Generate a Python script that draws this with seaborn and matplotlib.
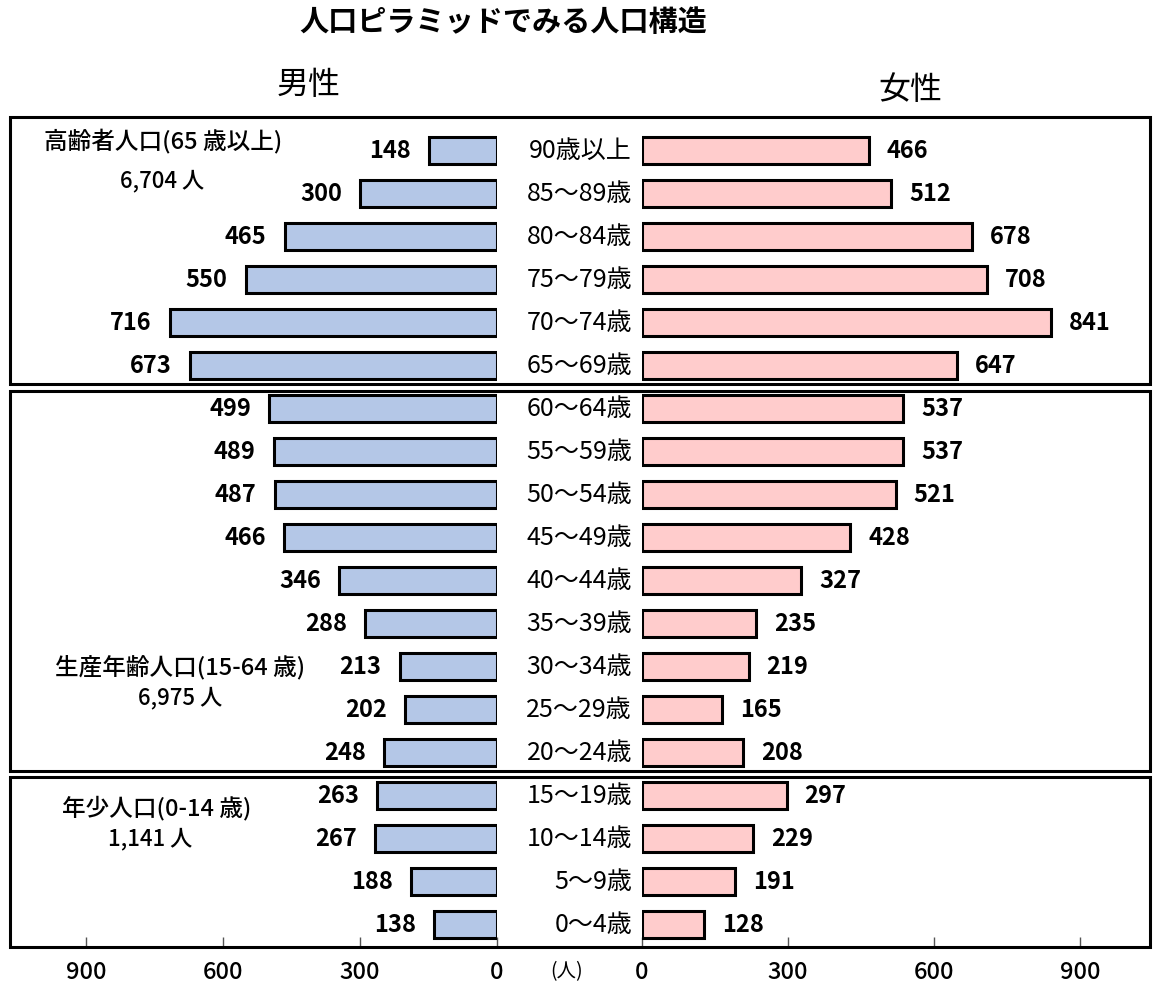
import matplotlib
matplotlib.use("Agg")
import matplotlib.pyplot as plt
from matplotlib.patches import Rectangle
import matplotlib.transforms as mtransforms
import seaborn as sns
import pandas as pd

sns.set_theme(style="white")
plt.rcParams["font.family"] = ["Noto Sans CJK JP", "DejaVu Sans"]
plt.rcParams["text.color"] = "black"
plt.rcParams["xtick.color"] = "black"
plt.rcParams["xtick.labelcolor"] = "black"

# --- data -----------------------------------------------------------------
age_groups = ["90歳以上", "85〜89歳", "80〜84歳", "75〜79歳", "70〜74歳", "65〜69歳",
              "60〜64歳", "55〜59歳", "50〜54歳", "45〜49歳", "40〜44歳", "35〜39歳",
              "30〜34歳", "25〜29歳", "20〜24歳", "15〜19歳", "10〜14歳", "5〜9歳", "0〜4歳"]
male = [148, 300, 465, 550, 716, 673,
        499, 489, 487, 466, 346, 288, 213, 202, 248,
        263, 267, 188, 138]
female = [466, 512, 678, 708, 841, 647,
          537, 537, 521, 428, 327, 235, 219, 165, 208,
          297, 229, 191, 128]
ticks = [0, 300, 600, 900]

group_names = ["高齢者人口(65 歳以上)", "生産年齢人口(15-64 歳)", "年少人口(0-14 歳)"]
group_totals = ["6,704 人", "6,975 人", "1,141 人"]

df = pd.DataFrame({"age": age_groups, "male": male, "female": female})

MALE_C = "#B4C7E7"
FEMALE_C = "#FFCCCC"

W, H = 1153, 992
fig = plt.figure(figsize=(W / 100, H / 100), dpi=100)


def fx(px):
    return px / W


def fy(py):
    return 1 - py / H


ax_top, ax_bot = 117, 947
ax_m = fig.add_axes([fx(10), fy(ax_bot), fx(497 - 10), (ax_bot - ax_top) / H])
ax_f = fig.add_axes([fx(642), fy(ax_bot), fx(1150 - 642), (ax_bot - ax_top) / H])

sns.barplot(data=df, y="age", x="male", orient="h", ax=ax_m, color=MALE_C,
            edgecolor="black", linewidth=2.2, width=0.63, saturation=1)
sns.barplot(data=df, y="age", x="female", orient="h", ax=ax_f, color=FEMALE_C,
            edgecolor="black", linewidth=2.2, width=0.63, saturation=1)

ylim = (18.52, -0.79)
ax_m.set_xlim(1066, 0)
ax_f.set_xlim(0, 1044)
for ax in (ax_m, ax_f):
    ax.set_ylim(*ylim)
    ax.set_xlabel("")
    ax.set_ylabel("")
    ax.set_yticks([])
    ax.set_xticks(ticks)
    ax.set_xticklabels([str(t) for t in ticks], fontsize=17, fontweight="medium")
    ax.tick_params(axis="x", direction="in", length=7, width=1, color="#555555",
                   pad=10, bottom=True)
    for s in ax.spines.values():
        s.set_visible(False)
    ax.patch.set_alpha(0)

# value labels, offset a fixed distance from the bar ends
for i, v in enumerate(male):
    ax_m.annotate(str(v), (v, i), xytext=(-13, 0), textcoords="offset points",
                  ha="right", va="center", fontsize=17, fontweight="bold")
for i, v in enumerate(female):
    ax_f.annotate(str(v), (v, i), xytext=(13, 0), textcoords="offset points",
                  ha="left", va="center", fontsize=17, fontweight="bold")

# age labels between the two sides
trans = mtransforms.blended_transform_factory(fig.transFigure, ax_f.transData)
for i, a in enumerate(age_groups):
    fig.text(fx(632), i, a, transform=trans, ha="right", va="center", fontsize=18)

# overlay for frames and headings
ov = fig.add_axes([0, 0, 1, 1])
ov.set_xlim(0, W)
ov.set_ylim(H, 0)
ov.axis("off")
ov.patch.set_alpha(0)

boxes = [(117, 384), (391, 771), (777, 947)]
for top, bot in boxes:
    ov.add_patch(Rectangle((10, top), 1140, bot - top, fill=False,
                           edgecolor="black", linewidth=2.2))

ov.text(503, 22, "人口ピラミッドでみる人口構造", ha="center", va="center",
        fontsize=21, fontweight="bold")
ov.text(309, 85, "男性", ha="center", va="center", fontsize=23)
ov.text(910, 90, "女性", ha="center", va="center", fontsize=23)
ov.text(567, 972, "(人)", ha="center", va="center", fontsize=14)

group_pos = [((163, 141), (162, 181)), ((180, 667), (180, 698)), ((157, 808), (150, 839))]
for (name, total), ((nx, ny), (tx, ty)) in zip(zip(group_names, group_totals), group_pos):
    ov.text(nx, ny, name, ha="center", va="center", fontsize=17, fontweight="medium")
    ov.text(tx, ty, total, ha="center", va="center", fontsize=16, fontweight="medium")

fig.savefig("out.png", dpi=100)
